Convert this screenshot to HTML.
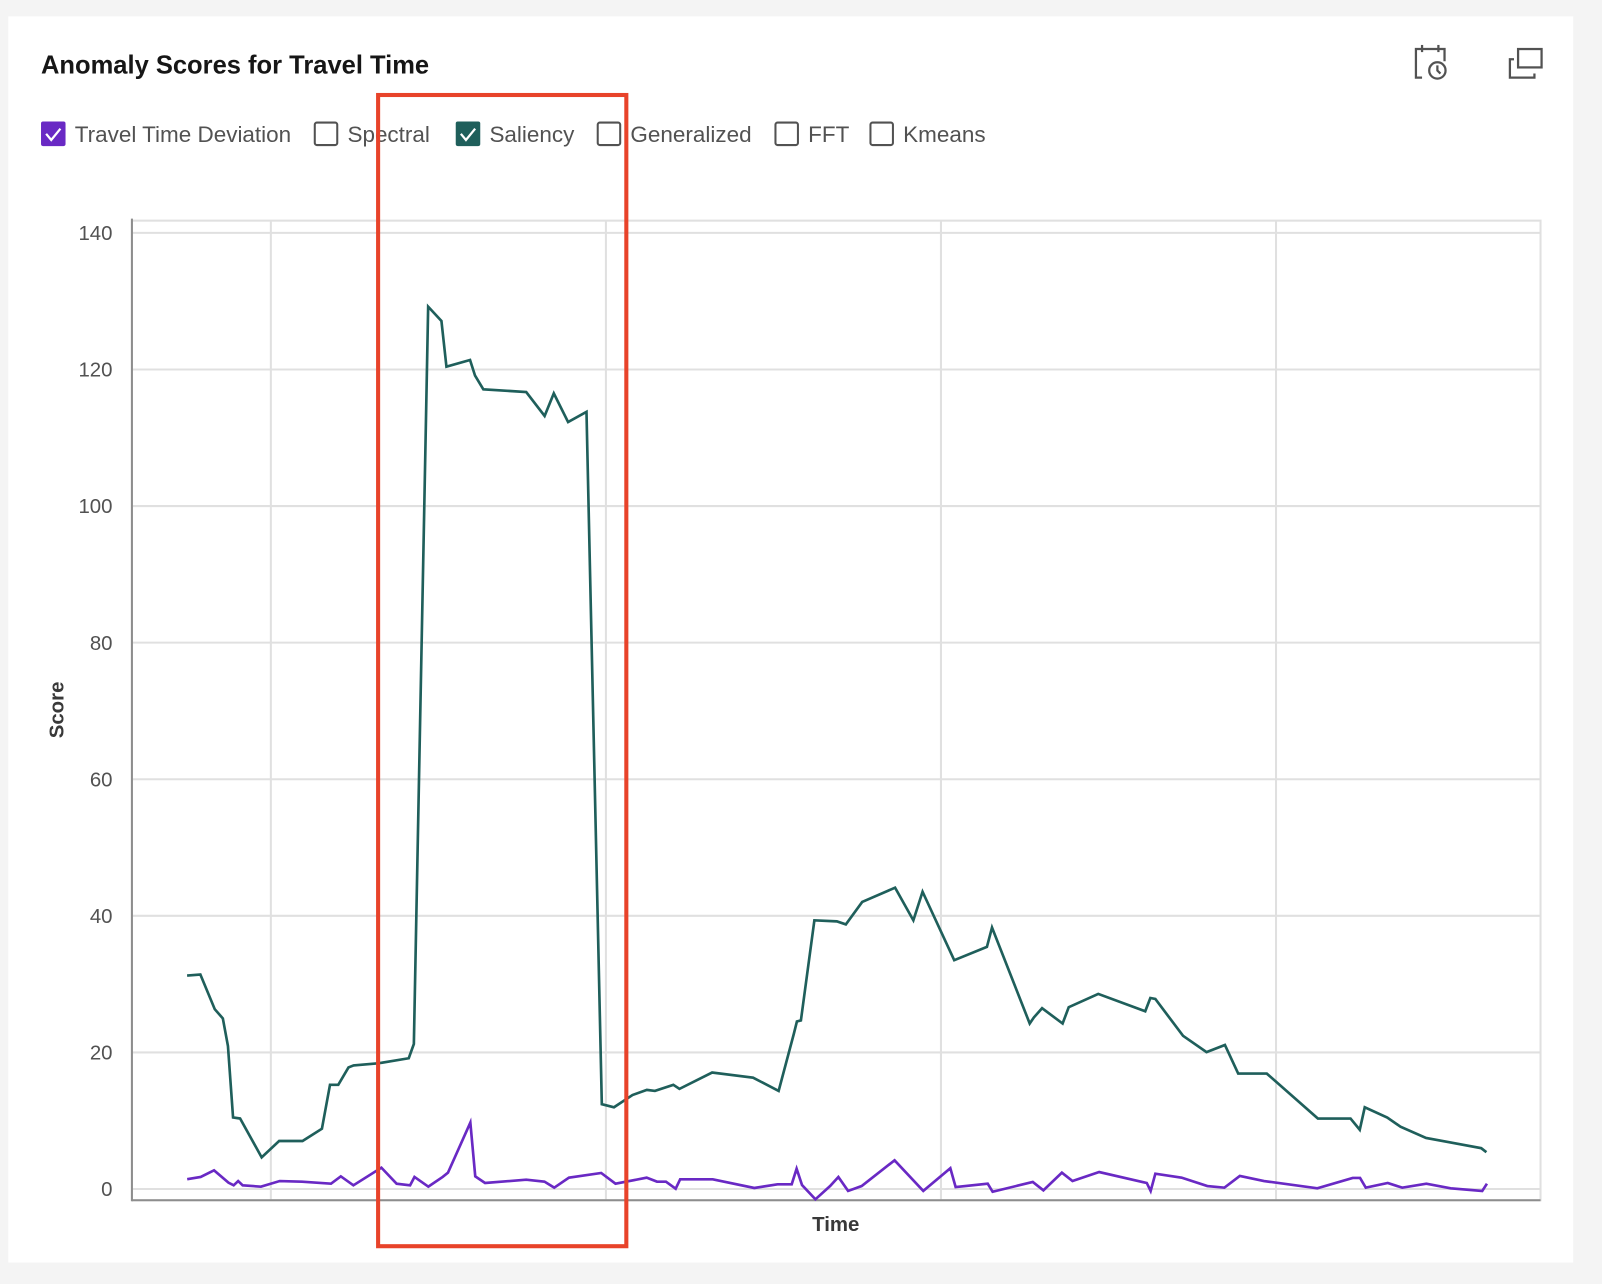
<!DOCTYPE html>
<html><head><meta charset="utf-8"><style>
html,body{margin:0;padding:0;background:#f4f4f4;width:1602px;height:1284px;overflow:hidden}
svg{display:block}
text{font-family:"Liberation Sans",sans-serif}
</style></head><body>
<svg id="root" width="1602" height="1284" viewBox="0 0 1568 1257" xmlns="http://www.w3.org/2000/svg">
<rect x="0" y="0" width="1568" height="1257" fill="#f4f4f4"/>
<rect x="8" y="16" width="1532" height="1220" fill="#ffffff"/>
<text x="40" y="72" font-size="25" font-weight="bold" fill="#161616">Anomaly Scores for Travel Time</text>
<g fill="none" stroke="#525252" stroke-width="2.2">
<path d="M1392 76 h-6 v-28 h28 v12"/><line x1="1392" y1="44" x2="1392" y2="51"/><line x1="1408" y1="44" x2="1408" y2="51"/>
<circle cx="1407" cy="69" r="8"/><path d="M1407 64 v5 l3 3"/></g>
<g fill="none" stroke="#525252" stroke-width="2.2">
<rect x="1486" y="48" width="23" height="18"/><path d="M1482 58 h-4 v18 h24 v-4"/></g>
<g id="legend"></g>
<g id="plot"></g>
<rect x="370" y="93" width="243" height="1127" fill="none" stroke="#e8432a" stroke-width="4"/>
</svg>
<script>
const yTicks=[0,20,40,60,80,100,120,140];
const xGridT=[0,24,48,72];
const legendLabels=["Travel Time Deviation","Spectral","Saliency","Generalized","FFT","Kmeans"];
const legendChecked=[true,false,true,false,false,false];
const legendColors=["#6929c4",null,"#1f5f5b",null,null,null];
const saliencyT=[-6.00,-5.05,-4.02,-3.44,-3.07,-2.71,-2.20,-0.66,0.59,2.27,3.66,4.24,4.83,5.56,5.93,7.68,9.88,10.24,11.27,12.22,12.58,14.27,14.63,15.22,18.29,19.61,20.27,21.29,22.61,23.71,24.58,25.90,26.93,27.51,28.83,29.27,31.61,34.54,36.37,37.46,37.68,37.97,38.93,40.54,41.19,42.36,44.71,46.02,46.68,48.95,51.29,51.66,54.36,54.66,55.24,56.71,57.15,59.27,62.63,63.00,63.36,65.34,67.02,68.34,69.29,71.34,75.00,77.34,78.00,78.36,79.97,80.92,82.75,86.70,87.07];
const saliencyV=[31.26,31.41,26.32,24.98,20.94,10.47,10.32,4.64,7.03,7.03,8.82,15.26,15.26,17.80,18.10,18.40,19.14,21.24,129.2,127.1,120.4,121.4,119.1,117.1,116.7,113.2,116.5,112.3,113.8,12.41,11.97,13.76,14.51,14.36,15.26,14.66,17.05,16.30,14.36,22.73,24.53,24.68,39.34,39.19,38.74,42.03,44.12,39.34,43.52,33.50,35.45,38.29,24.23,25.13,26.47,24.23,26.62,28.57,26.02,27.97,27.82,22.43,20.04,21.09,16.90,16.90,10.32,10.32,8.67,11.97,10.47,9.12,7.48,5.98,5.38];
const deviationT=[-5.99,-5.03,-4.07,-3.04,-2.66,-2.34,-2.02,-0.71,0.64,2.23,4.31,5.01,5.91,7.92,9.01,9.97,10.29,11.28,12.31,12.69,14.29,14.64,15.34,18.29,19.60,20.30,21.35,23.66,24.69,26.92,27.66,28.30,29.00,29.32,31.65,34.63,36.29,37.31,37.66,38.05,39.01,40.06,40.65,41.35,42.32,44.68,46.73,48.67,49.05,51.35,51.70,54.58,55.34,56.66,57.42,59.33,62.74,63.02,63.36,65.24,67.08,68.30,69.41,71.14,74.96,77.49,78.02,78.43,80.0,81.04,82.77,84.51,86.77,87.11];
const deviationV=[1.44,1.76,2.74,0.92,0.54,1.17,0.54,0.34,1.17,1.07,0.78,1.85,0.54,3.12,0.78,0.54,1.76,0.34,1.76,2.39,9.72,1.85,0.88,1.36,1.07,0.19,1.66,2.35,0.78,1.66,1.07,1.07,0.04,1.42,1.42,0.15,0.69,0.69,2.97,0.59,-1.51,0.44,1.76,-0.29,0.44,4.20,-0.29,3.03,0.29,0.78,-0.40,1.03,-0.19,2.39,1.17,2.49,0.88,-0.29,2.24,1.66,0.44,0.19,1.91,1.17,0.10,1.61,1.61,0.19,0.88,0.19,0.78,0.10,-0.29,0.78];

const NS="http://www.w3.org/2000/svg";
const X0=129,X1=1508,Y0=1164,Y140=228;
const tMin=(X0-265)/13.667, tMax=(X1-265)/13.667;
function xs(t){return X0+(t-tMin)/(tMax-tMin)*(X1-X0);}
function ys(v){return Y0-(v/140)*(Y0-Y140);}
function mk(tag,attrs,parent){const e=document.createElementNS(NS,tag);for(const k in attrs)e.setAttribute(k,attrs[k]);parent.appendChild(e);return e;}
const plot=document.getElementById('plot');
// frame
let fr=mk('rect',{x:X0,y:216,width:X1-X0,height:1175-216,fill:'none',stroke:'#e0e0e0','stroke-width':2},plot);


yTicks.forEach(v=>{
  const l=mk('line',{x1:X0,x2:X1,y1:ys(v),y2:ys(v),stroke:'#e0e0e0','stroke-width':2},plot);
  
  
  const t=mk('text',{x:110,y:ys(v)+7,'text-anchor':'end','font-size':20,fill:'#525252'},plot);
  t.textContent=v;
  
  
});
xGridT.forEach(tv=>{
  const l=mk('line',{x1:xs(tv),x2:xs(tv),y1:216,y2:1175,stroke:'#e0e0e0','stroke-width':2},plot);
  
  
});
let ax=mk('line',{x1:X0,x2:X0,y1:214,y2:1176,stroke:'#8d8d8d','stroke-width':2},plot);


let bx=mk('line',{x1:X0,x2:X1,y1:1175,y2:1175,stroke:'#8d8d8d','stroke-width':2},plot);


let yt=mk('text',{x:62,y:695,'text-anchor':'middle','font-size':20,'font-weight':'bold',fill:'#393939',transform:'rotate(-90 62 695)'},plot);
yt.textContent='Score';


let xt=mk('text',{x:818,y:1205,'text-anchor':'middle','font-size':20,'font-weight':'bold',fill:'#393939'},plot);
xt.textContent='Time';


function line(T,V,color,name){
  const d=T.map((t,i)=>(i?'L':'M')+xs(t).toFixed(1)+' '+ys(V[i]).toFixed(1)).join(' ');
  const p=mk('path',{d:d,fill:'none',stroke:color,'stroke-width':2.6,'stroke-linejoin':'miter'},plot);
  
  
}
line(saliencyT,saliencyV,'#1f5f5b','saliency-line');
line(deviationT,deviationV,'#6929c4','travel-time-deviation-line');
// legend
const lg=document.getElementById('legend');
const lx=[40,307,446,584,758,851];
legendLabels.forEach((lab,i)=>{
  const g=mk('g',{},lg);
  
  
  if(legendChecked[i]){
    mk('rect',{x:lx[i],y:119,width:24,height:24,rx:2,fill:legendColors[i]},g);
    mk('path',{d:`M${lx[i]+5} ${131} l5 6 l9 -11`,fill:'none',stroke:'#fff','stroke-width':2.2},g);
  } else {
    mk('rect',{x:lx[i]+1,y:120,width:22,height:22,rx:2,fill:'#fff',stroke:'#525252','stroke-width':2},g);
  }
  const t=mk('text',{x:lx[i]+33,y:139,'font-size':22,fill:'#525252'},g);
  t.textContent=lab;
});
</script>
</body></html>
